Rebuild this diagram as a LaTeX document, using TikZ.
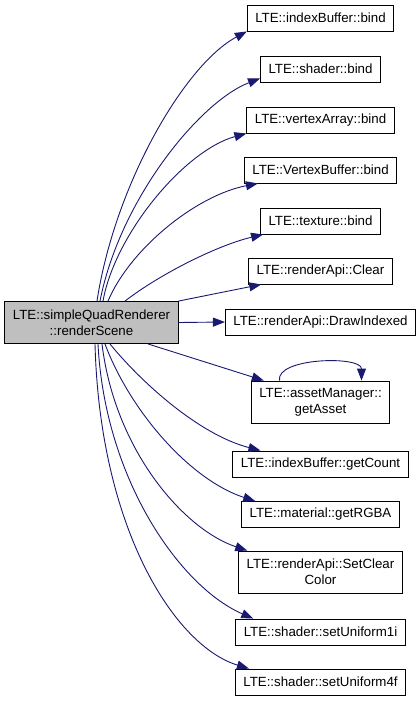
\documentclass[tikz,border=0pt]{standalone}
\usepackage{fontspec}
\setmainfont{Liberation Sans}
\usepackage{xcolor}
\usepackage{tikz}
\usetikzlibrary{arrows.meta}
\definecolor{midnight}{RGB}{25,25,112}

\begin{document}
\begin{tikzpicture}[x=1pt,y=-1pt,font=\fontsize{13.3}{16}\selectfont,
  func/.style={draw=black, fill=white, line width=0.9pt, inner xsep=8pt, inner ysep=3pt, minimum height=26pt},
  twoline/.style={align=center, minimum height=42pt},
  call/.style={draw=midnight, line width=0.9pt, -{Triangle[length=12pt,width=9pt]}}]
  \useasboundingbox (0,0) rectangle (420,701);

  \node[func, twoline, fill=black!25] (root) at (91.5,322.5) {LTE::simpleQuadRenderer\\::renderScene};

  \node[func] (bindIdx) at (320.5,18) {LTE::indexBuffer::bind};
  \node[func] (bindShader) at (320.5,69) {LTE::shader::bind};
  \node[func] (bindVao) at (320.5,120) {LTE::vertexArray::bind};
  \node[func] (bindVbo) at (320.5,170) {LTE::VertexBuffer::bind};
  \node[func] (bindTex) at (320.5,221) {LTE::texture::bind};
  \node[func] (clear) at (320.5,271) {LTE::renderApi::Clear};
  \node[func] (drawIdx) at (320.5,322) {LTE::renderApi::DrawIndexed};
  \node[func, twoline] (getAsset) at (320.5,402) {LTE::assetManager::\\getAsset};
  \node[func] (getCount) at (320.5,464) {LTE::indexBuffer::getCount};
  \node[func] (getRGBA) at (320.5,514.5) {LTE::material::getRGBA};
  \node[func, twoline] (setClear) at (320.5,572) {LTE::renderApi::SetClear\\Color};
  \node[func] (setU1i) at (320.5,632) {LTE::shader::setUniform1i};
  \node[func] (setU4f) at (320.5,682) {LTE::shader::setUniform4f};

  % calls going up
  \draw[call] ([xshift=5.5]root.north) .. controls +(18,-117) and +(-62,33) .. (bindIdx.south west);
  \draw[call] ([xshift=8.5]root.north) .. controls +(20,-102) and +(-60,23) .. ([yshift=4]bindShader.south west);
  \draw[call] ([xshift=11.5]root.north) .. controls +(12,-67) and +(-62,17) .. (bindVao.south west);
  \draw[call] ([xshift=16.5]root.north) .. controls +(22,-52) and +(-62,12) .. ([xshift=14]bindVbo.south west);
  \draw[call] ([xshift=33.5]root.north) .. controls +(35,-27) and +(-46,11) .. ([xshift=3]bindTex.south west);
  \draw[call] (root.north east) -- ([xshift=13]clear.south west);
  \draw[call] (root.east) -- (drawIdx.west);

  % calls going down
  \draw[call] ([xshift=56.5]root.south) -- ([xshift=13]getAsset.north west);
  \draw[call] ([xshift=-41]getAsset.north) .. controls +(-4,-23) and +(0,-25) .. ([xshift=41]getAsset.north);
  \draw[call] ([xshift=18.5]root.south) .. controls +(30,37) and +(-62,-16) .. ([xshift=28]getCount.north west);
  \draw[call] ([xshift=13.5]root.south) .. controls +(25,67) and +(-65,-21) .. ([xshift=14]getRGBA.north west);
  \draw[call] ([xshift=10.5]root.south) .. controls +(13,107) and +(-63,-21) .. ([xshift=9]setClear.north west);
  \draw[call] ([xshift=6.5]root.south) .. controls +(7,137) and +(-72,-31) .. ([xshift=18]setU1i.north west);
  \draw[call] ([xshift=3.5]root.south) .. controls +(5,187) and +(-73,-22) .. ([xshift=14]setU4f.north west);
\end{tikzpicture}
\end{document}
